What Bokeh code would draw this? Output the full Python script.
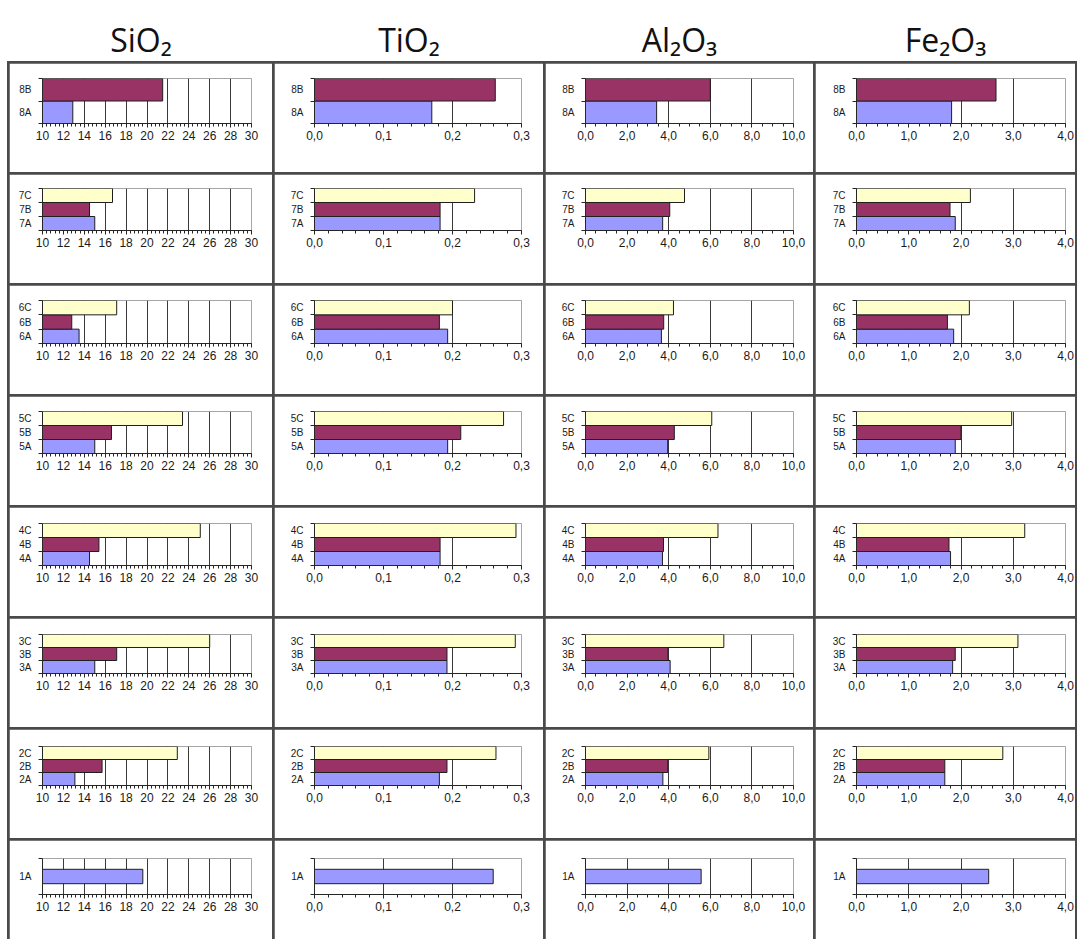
import numpy as np
from bokeh.plotting import figure
from bokeh.models import (Range1d, FixedTicker, CustomJSTickFormatter, Label,
                          GridBox, Spacer, ColumnDataSource)
from bokeh.layouts import column, row
from bokeh.embed import file_html
from bokeh.resources import INLINE

# ---------------- data ----------------
oxides = ["SiO₂", "TiO₂", "Al₂O₃", "Fe₂O₃"]

samples = [["8A", "8B"],
           ["7A", "7B", "7C"],
           ["6A", "6B", "6C"],
           ["5A", "5B", "5C"],
           ["4A", "4B", "4C"],
           ["3A", "3B", "3C"],
           ["2A", "2B", "2C"],
           ["1A"]]

sio2 = [[12.9, 21.5],
        [15.0, 14.5, 16.7],
        [13.5, 12.8, 17.1],
        [15.0, 16.6, 23.4],
        [14.5, 15.4, 25.1],
        [15.0, 17.1, 26.0],
        [13.1, 15.7, 22.9],
        [19.6]]

tio2 = [[0.170, 0.262],
        [0.182, 0.182, 0.232],
        [0.193, 0.181, 0.200],
        [0.193, 0.212, 0.274],
        [0.182, 0.182, 0.292],
        [0.192, 0.192, 0.291],
        [0.181, 0.192, 0.263],
        [0.259]]

al2o3 = [[3.42, 6.0],
         [3.71, 4.05, 4.76],
         [3.65, 3.76, 4.23],
         [3.95, 4.27, 6.07],
         [3.70, 3.75, 6.37],
         [4.07, 3.96, 6.65],
         [3.72, 3.95, 5.93],
         [5.56]]

fe2o3 = [[1.82, 2.67],
         [1.89, 1.79, 2.18],
         [1.86, 1.74, 2.16],
         [1.89, 2.00, 2.97],
         [1.80, 1.77, 3.22],
         [1.84, 1.89, 3.09],
         [1.69, 1.69, 2.80],
         [2.53]]

sio2_ticks = [10, 12, 14, 16, 18, 20, 22, 24, 26, 28, 30]
tio2_ticks = [0.0, 0.1, 0.2, 0.3]
al2o3_ticks = [0.0, 2.0, 4.0, 6.0, 8.0, 10.0]
fe2o3_ticks = [0.0, 1.0, 2.0, 3.0, 4.0]

series_colors = {"A": "#9999FF", "B": "#993366", "C": "#FFFFCC"}

# ---------------- layout / style ----------------
values_by_col = [sio2, tio2, al2o3, fe2o3]
ticks_by_col = [sio2_ticks, tio2_ticks, al2o3_ticks, fe2o3_ticks]
minor_div = [5, 5, 4, 5]
decimals = [0, 1, 1, 1]

gap = 2
left_pad = 7
col_w = [263, 269, 268, 260]
row_h = [109] * 7 + [99]
header_h = 61
frame_left = [33, 40, 40, 41]
frame_w = [209, 207, 208, 209]
frame_top = [15, 14, 15, 15, 16, 16, 17, 18]
frame_h = [45, 42, 43, 42, 42, 39, 39, 36]

LINE_DARK = "#262626"
TICK_FONT = "Liberation Sans"

grid_w = gap + sum(col_w) + gap * len(col_w)
total_w = left_pad + grid_w


def make_cell(r, c):
    labels = samples[r]
    vals = values_by_col[c][r]
    ticks = ticks_by_col[c]
    n = len(labels)
    w, h = col_w[c], row_h[r]
    p = figure(width=w, height=h, output_backend="svg", toolbar_location=None,
               x_range=Range1d(ticks[0], ticks[-1]),
               y_range=Range1d(-0.5, n - 0.5),
               min_border_left=frame_left[c],
               min_border_right=w - frame_left[c] - frame_w[c],
               min_border_top=frame_top[r],
               min_border_bottom=h - frame_top[r] - frame_h[r])
    p.background_fill_color = "white"
    p.border_fill_color = "white"
    p.outline_line_color = "#a6a6a6"
    p.outline_line_width = 1

    # x axis
    step = ticks[1] - ticks[0]
    minors = list(np.round(np.arange(ticks[0], ticks[-1] + step / 1000, step / minor_div[c]), 6))
    p.xaxis.ticker = FixedTicker(ticks=ticks, minor_ticks=minors)
    p.xaxis.formatter = CustomJSTickFormatter(
        args=dict(d=decimals[c]), code="return tick.toFixed(d).replace('.', ',');")
    p.xaxis.axis_line_color = LINE_DARK
    p.xaxis.major_tick_line_color = LINE_DARK
    p.xaxis.minor_tick_line_color = LINE_DARK
    p.xaxis.major_tick_out = 4
    p.xaxis.major_tick_in = 0
    p.xaxis.minor_tick_out = 3
    p.xaxis.minor_tick_in = 0
    p.xaxis.major_label_standoff = 3
    p.xaxis.major_label_text_font = TICK_FONT
    p.xaxis.major_label_text_font_size = "12px"
    p.xaxis.major_label_text_color = "#1a1a1a"

    # y axis (category labels centred, ticks at boundaries)
    p.yaxis.ticker = FixedTicker(ticks=list(range(n)),
                                 minor_ticks=[i - 0.5 for i in range(n + 1)])
    p.yaxis.major_label_overrides = {i: s for i, s in enumerate(labels)}
    p.yaxis.axis_line_color = LINE_DARK
    p.yaxis.major_tick_out = 0
    p.yaxis.major_tick_in = 0
    p.yaxis.minor_tick_line_color = LINE_DARK
    p.yaxis.minor_tick_out = 4
    p.yaxis.minor_tick_in = 0
    p.yaxis.major_label_standoff = 7
    p.yaxis.major_label_text_font = TICK_FONT
    p.yaxis.major_label_text_font_size = "10px"
    p.yaxis.major_label_text_color = "#1a1a1a"

    # grid
    p.ygrid.grid_line_color = None
    p.xgrid.ticker = FixedTicker(ticks=ticks[1:-1])
    p.xgrid.grid_line_color = "#3a3a3a"
    p.xgrid.grid_line_width = 1

    src = ColumnDataSource(dict(
        y=list(range(n)),
        left=[ticks[0]] * n,
        right=vals,
        color=[series_colors[s[-1]] for s in labels],
    ))
    bar_h = 1.0 if n > 1 else 0.4
    p.hbar(y="y", left="left", right="right", height=bar_h, source=src,
           fill_color="color", line_color="#1f1f1f", line_width=1)
    return p


# header with the oxide names
header = figure(width=total_w, height=header_h, output_backend="svg", toolbar_location=None,
                x_range=Range1d(0, total_w), y_range=Range1d(0, header_h),
                x_axis_type=None, y_axis_type=None, min_border=0)
header.outline_line_color = None
header.grid.visible = False
header.background_fill_color = "white"
header.border_fill_color = "white"
for c, name in enumerate(oxides):
    cx = left_pad + gap + sum(col_w[:c]) + c * gap + col_w[c] / 2
    header.add_layout(Label(x=cx, y=22, text=name, text_align="center",
                            text_baseline="alphabetic", text_font="Open Sans",
                            text_font_size="32px", text_color="#111111"))

children = [(Spacer(width=0, height=0), 0, 0),
            (Spacer(width=0, height=0), 0, len(oxides) + 1)]
for r in range(len(samples)):
    for c in range(len(oxides)):
        children.append((make_cell(r, c), r + 1, c + 1))

grid = GridBox(children=children, spacing=gap,
               styles={"background-color": "#4a4a4a"})

layout = column(header, row(Spacer(width=left_pad, height=1), grid, spacing=0), spacing=0)

open("out.html", "w").write(file_html(layout, INLINE))
